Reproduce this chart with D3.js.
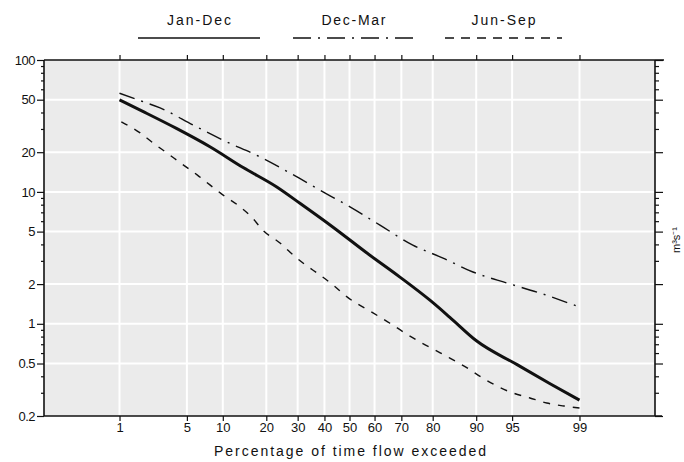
<!DOCTYPE html>
<html>
<head>
<meta charset="utf-8">
<script src="https://cdn.jsdelivr.net/npm/d3@7"></script>
<style>
  body { margin: 0; background: #fff; }
  svg text { font-family: "Liberation Sans", Arial, sans-serif; fill: #111; }
</style>
</head>
<body>
<svg id="chart" width="684" height="462"></svg>
<script>
// ---- data ----
const pctTicks = [1, 5, 10, 20, 30, 40, 50, 60, 70, 80, 90, 95, 99];
const qMajor = [0.2, 0.5, 1, 2, 5, 10, 20, 50, 100];
const qMinor = [0.3, 0.4, 0.6, 0.7, 0.8, 0.9, 3, 4, 6, 7, 8, 9, 30, 40, 60, 70, 80, 90];
const qGrid = [0.5, 1, 2, 5, 10, 20, 50];
const seasons = ["Jan-Dec", "Dec-Mar", "Jun-Sep"];

const janDecPct = [1, 1.85, 4.0, 7.9, 14.1, 23.1, 30.8, 43.4, 57.0, 69.5, 79.2, 84.5, 90.1, 95.5, 97.9, 99];
const janDecQ   = [49.8, 40.6, 30.3, 22.0, 15.3, 10.9, 8.2, 5.4, 3.44, 2.26, 1.51, 1.12, 0.74, 0.49, 0.35, 0.264];

const decMarPct = [1, 1.84, 2.77, 5.7, 10.0, 18.3, 27.4, 38.3, 50.2, 62.1, 73.9, 82.8, 89.4, 94.4, 97.3, 99];
const decMarQ   = [56, 48.3, 43.3, 32.1, 24.7, 18.4, 13.9, 10.3, 7.7, 5.6, 3.95, 3.15, 2.47, 2.04, 1.71, 1.34];

const junSepPct = [1.05, 1.71, 2.35, 3.25, 4.5, 6.2, 7.9, 10.0, 12.8, 16.2, 19.1, 24.1, 27.3, 31.9, 38.3, 43.4, 49.0,
                   59.4, 65.9, 71.3, 76.2, 80.6, 84.5, 88.3, 91.1, 94.8, 96.6, 97.7, 98.5, 99];
const junSepQ   = [34, 28, 23.5, 19.7, 16.3, 13.4, 11.3, 9.5, 8.0, 6.4, 5.1, 4.1, 3.5, 2.89, 2.34, 1.97, 1.6,
                   1.21, 1.01, 0.851, 0.728, 0.633, 0.55, 0.463, 0.388, 0.304, 0.274, 0.251, 0.238, 0.23];

// inverse normal cdf (Acklam) -> probability axis
function probit(p) {
  const a = [-3.969683028665376e+01, 2.209460984245205e+02, -2.759285104469687e+02, 1.383577518672690e+02, -3.066479806614716e+01, 2.506628277459239e+00];
  const b = [-5.447609879822406e+01, 1.615858368580409e+02, -1.556989798598866e+02, 6.680131188771972e+01, -1.328068155288572e+01];
  const c = [-7.784894002430293e-03, -3.223964580411365e-01, -2.400758277161838e+00, -2.549732539343734e+00, 4.374664141464968e+00, 2.938163982698783e+00];
  const d = [7.784695709041462e-03, 3.224671290700398e-01, 2.445134137142996e+00, 3.754408661907416e+00];
  const pl = 0.02425;
  if (p < pl) {
    const q = Math.sqrt(-2 * Math.log(p));
    return (((((c[0]*q+c[1])*q+c[2])*q+c[3])*q+c[4])*q+c[5]) / ((((d[0]*q+d[1])*q+d[2])*q+d[3])*q+1);
  }
  if (p > 1 - pl) {
    const q = Math.sqrt(-2 * Math.log(1 - p));
    return -(((((c[0]*q+c[1])*q+c[2])*q+c[3])*q+c[4])*q+c[5]) / ((((d[0]*q+d[1])*q+d[2])*q+d[3])*q+1);
  }
  const q = p - 0.5, r = q * q;
  return (((((a[0]*r+a[1])*r+a[2])*r+a[3])*r+a[4])*r+a[5])*q / (((((b[0]*r+b[1])*r+b[2])*r+b[3])*r+b[4])*r+1);
}
const z = pct => probit(pct / 100);

// ---- layout ----
const L = 44, R = 655, T = 60, B = 416;
const svg = d3.select("#chart");

const x = d3.scaleLinear().domain([z(0.1), z(99.9)]).range([L, R]);
const y = d3.scaleLog().domain([0.2, 100]).range([B, T]);

// plot background
svg.append("rect")
    .attr("x", L).attr("y", T)
    .attr("width", R - L).attr("height", B - T)
    .attr("fill", "#ebebeb");

// GRID
const grid = svg.append("g").attr("stroke", "#fff").attr("stroke-width", 2);
grid.selectAll("line.v")
  .data(pctTicks)
  .join("line")
    .attr("class", "v")
    .attr("x1", d => x(z(d))).attr("x2", d => x(z(d)))
    .attr("y1", T + 1).attr("y2", B - 1);
grid.selectAll("line.h")
  .data(qGrid)
  .join("line")
    .attr("class", "h")
    .attr("x1", L + 1).attr("x2", R - 1)
    .attr("y1", d => y(d)).attr("y2", d => y(d));

// CURVES
const line = d3.line()
    .x(d => x(z(d[0])))
    .y(d => y(d[1]))
    .curve(d3.curveMonotoneX);

const series = [
  {name: seasons[1], pts: d3.zip(decMarPct, decMarQ), dash: "16,7,2,7", w: 1.4},
  {name: seasons[2], pts: d3.zip(junSepPct, junSepQ), dash: "7,8", w: 1.4},
  {name: seasons[0], pts: d3.zip(janDecPct, janDecQ), dash: null, w: 3}
];
svg.append("g")
  .selectAll("path")
  .data(series)
  .join("path")
    .attr("fill", "none")
    .attr("stroke", "#111")
    .attr("stroke-width", d => d.w)
    .attr("stroke-dasharray", d => d.dash)
    .attr("d", d => line(d.pts));

// AXES
const fmtQ = d => d;
const pz = pctTicks.map(z);

const gB = svg.append("g").attr("transform", `translate(0,${B})`)
    .call(d3.axisBottom(x).tickValues(pz).tickFormat((d, i) => pctTicks[i]).tickSize(5).tickPadding(2));
const gT = svg.append("g").attr("transform", `translate(0,${T})`)
    .call(d3.axisTop(x).tickValues(pz).tickFormat("").tickSize(5));
const gL = svg.append("g").attr("transform", `translate(${L},0)`)
    .call(d3.axisLeft(y).tickValues(qMajor).tickFormat(fmtQ).tickSize(7).tickPadding(2));
const gLm = svg.append("g").attr("transform", `translate(${L},0)`)
    .call(d3.axisLeft(y).tickValues(qMinor).tickFormat("").tickSize(3));
const gR = svg.append("g").attr("transform", `translate(${R},0)`)
    .call(d3.axisRight(y).tickValues(qMajor).tickFormat("").tickSize(8));
const gRm = svg.append("g").attr("transform", `translate(${R},0)`)
    .call(d3.axisRight(y).tickValues(qMinor).tickFormat("").tickSize(4));

[gB, gT, gL, gLm, gR, gRm].forEach(g => {
  g.select(".domain").remove();
  g.selectAll(".tick line").attr("stroke", "#111").attr("stroke-width", 1.2);
  g.selectAll(".tick text").attr("font-size", 13).attr("fill", "#111");
});
gL.selectAll(".tick text").attr("letter-spacing", -0.5);

// frame
const frame = svg.append("g").attr("stroke", "#111").attr("stroke-width", 1.6);
frame.append("line").attr("x1", L).attr("x2", R + 9).attr("y1", T).attr("y2", T);
frame.append("line").attr("x1", L).attr("x2", R + 7).attr("y1", B).attr("y2", B);
frame.append("line").attr("x1", L).attr("x2", L).attr("y1", T).attr("y2", B);
frame.append("line").attr("x1", R).attr("x2", R).attr("y1", T).attr("y2", B);

// axis titles
svg.append("text")
    .attr("x", 350).attr("y", 456)
    .attr("text-anchor", "middle")
    .attr("font-size", 14)
    .attr("textLength", 272).attr("lengthAdjust", "spacing")
    .text("Percentage of time flow exceeded");

svg.append("text")
    .attr("transform", "translate(680,240) rotate(-90)")
    .attr("text-anchor", "middle")
    .attr("font-size", 11)
    .text("m³s⁻¹");

// LEGEND
const legend = [
  {name: seasons[0], x1: 138, x2: 260, dash: null, w: 1.6},
  {name: seasons[1], x1: 293, x2: 414, dash: "18,7,2,7", w: 1.4},
  {name: seasons[2], x1: 445, x2: 562, dash: "9,7", w: 1.4}
];
const lg = svg.append("g");
lg.selectAll("line")
  .data(legend)
  .join("line")
    .attr("x1", d => d.x1).attr("x2", d => d.x2)
    .attr("y1", 38).attr("y2", 38)
    .attr("stroke", "#111")
    .attr("stroke-width", d => d.w)
    .attr("stroke-dasharray", d => d.dash);
lg.selectAll("text")
  .data(legend)
  .join("text")
    .attr("x", d => (d.x1 + d.x2) / 2)
    .attr("y", 25)
    .attr("text-anchor", "middle")
    .attr("font-size", 14)
    .attr("textLength", 64).attr("lengthAdjust", "spacing")
    .text(d => d.name);
</script>
</body>
</html>
